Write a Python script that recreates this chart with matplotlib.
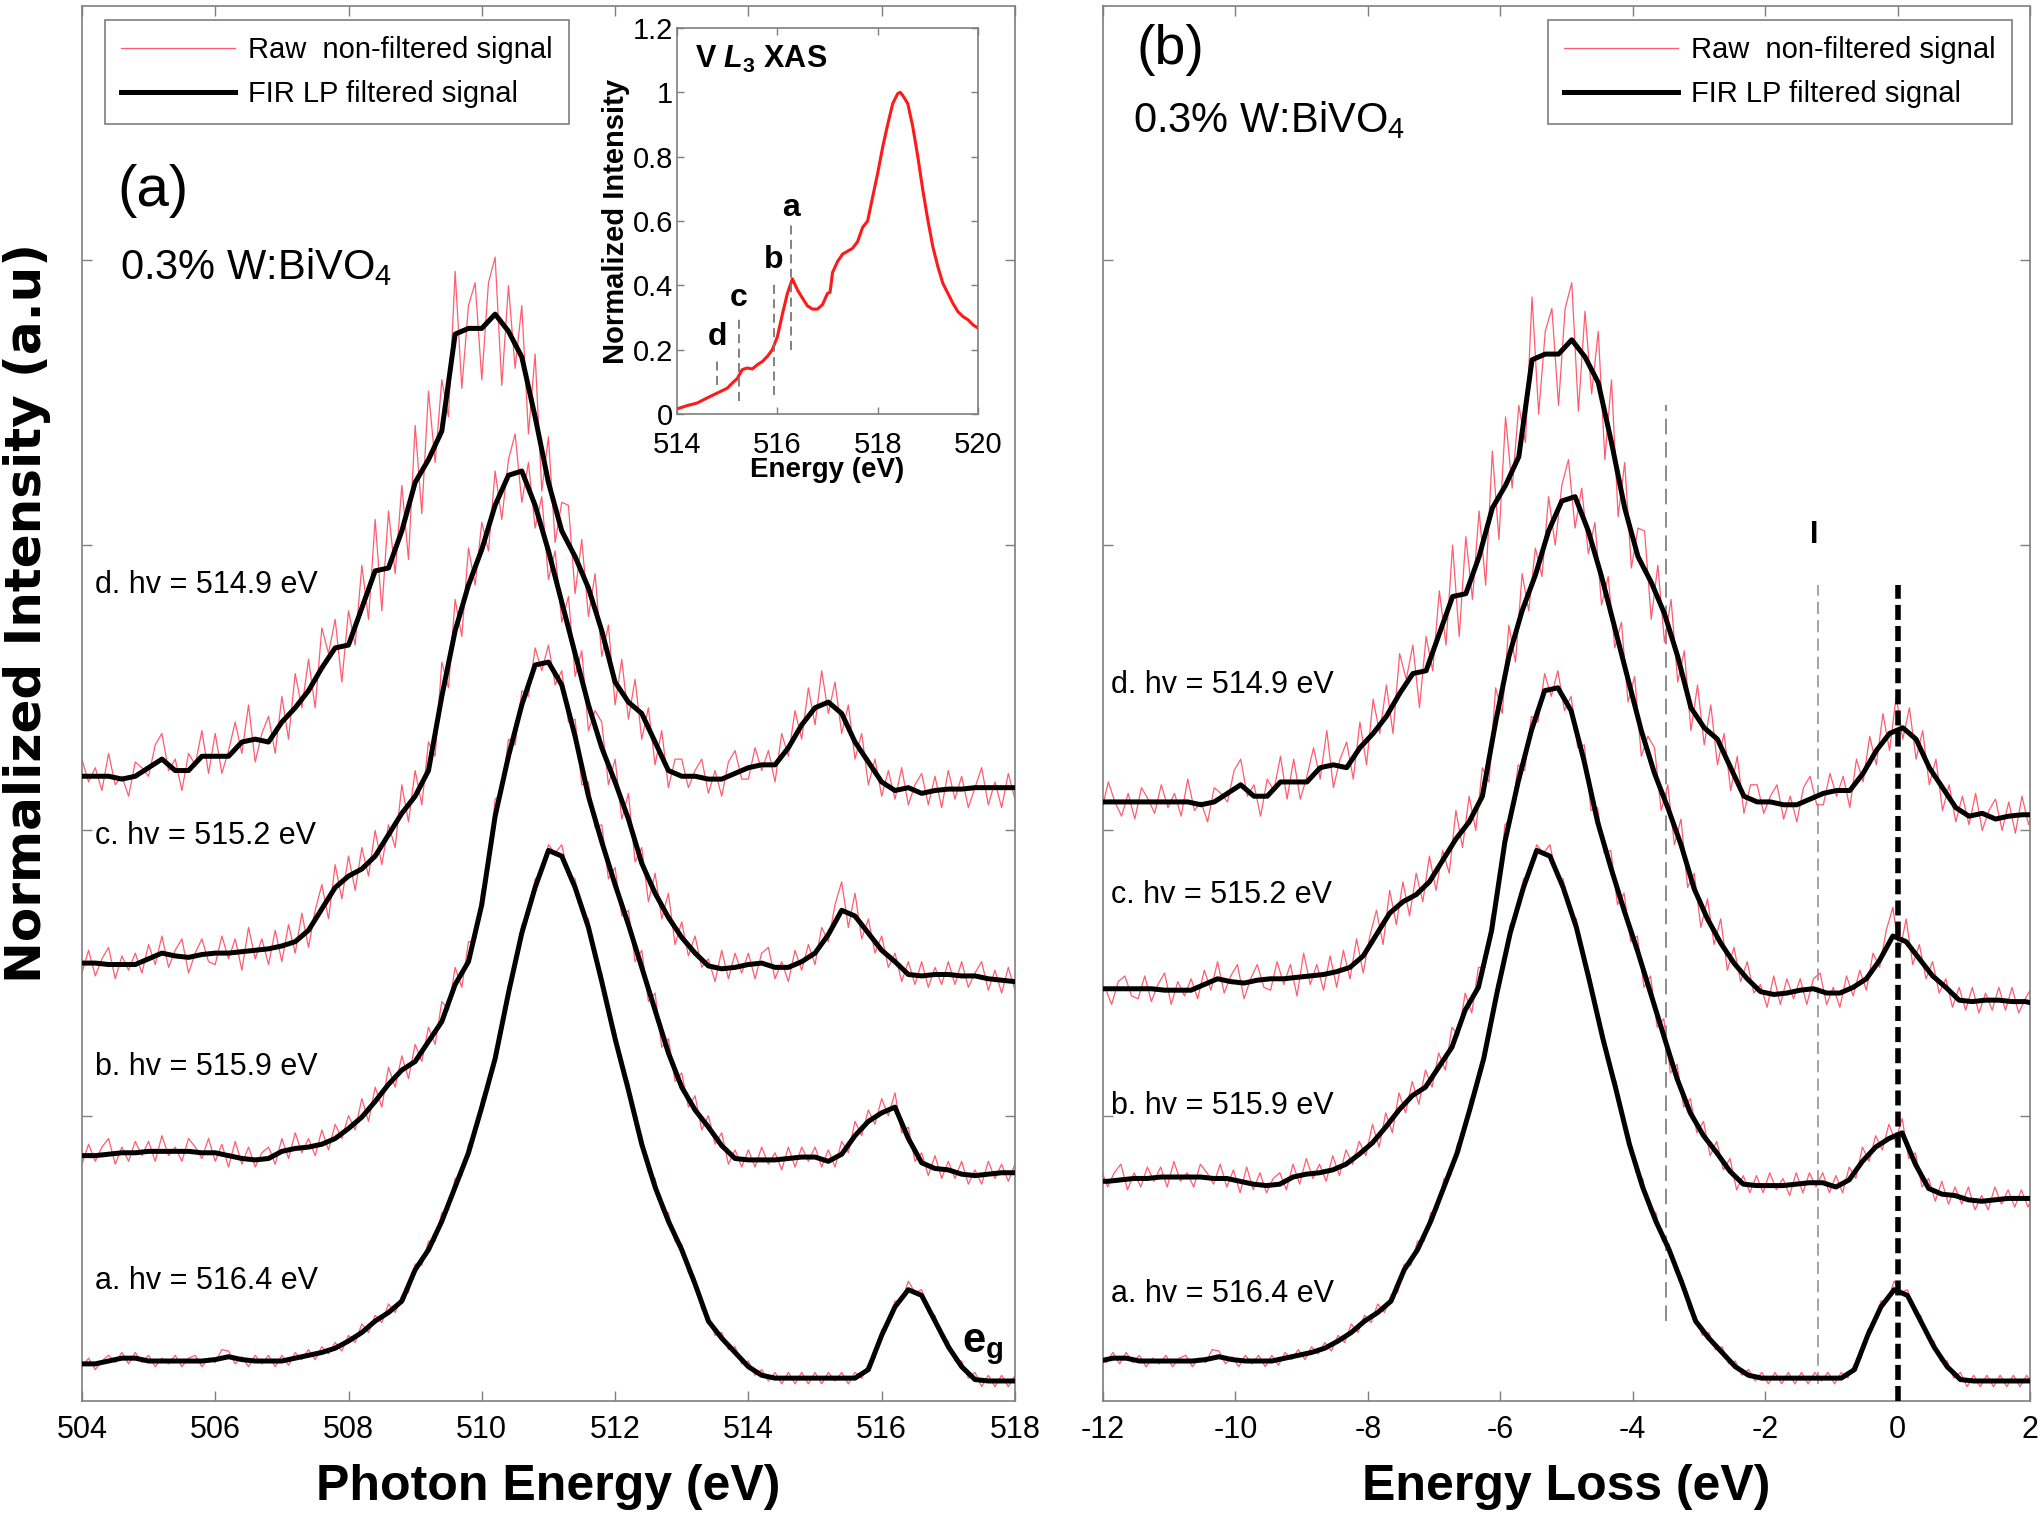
import matplotlib.pyplot as plt
import numpy as np

plt.rcParams['font.family'] = ['Liberation Sans', 'DejaVu Sans']
plt.rcParams['mathtext.fontset'] = 'custom'
plt.rcParams['mathtext.rm'] = 'Liberation Sans'
plt.rcParams['mathtext.it'] = 'Liberation Sans:italic:bold'
plt.rcParams['mathtext.bf'] = 'Liberation Sans:bold'
plt.rcParams['axes.unicode_minus'] = False

# ---- RIXS spectra (values in 1/100 of a y tick), photon energy grid ----
raw_start, raw_step = 503.0, 0.1
filt_start, filt_step = 503.0, 0.2

raw_a = [
    15, 12, 14, 11, 15, 13, 12, 15, 11, 14,
    12, 15, 11, 14, 16, 13.5, 17, 13, 17, 13.5,
    16, 12, 15, 13, 16, 12, 15, 16, 12, 15,
    13.5, 18, 17.5, 13, 15.5, 12, 16, 13, 16, 12,
    16, 12.5, 17, 14.5, 18, 14.5, 19, 16.5, 20.5, 17.5,
    23, 20.5, 27, 24, 30, 27.5, 34, 31, 37, 38,
    48, 47.5, 56, 56, 66, 67, 78, 79, 90, 93,
    106, 109, 123, 129, 146, 151, 167, 170, 183, 185,
    195, 192, 195, 184, 183, 171, 169, 155, 150, 135,
    130, 116, 112, 97, 93, 80, 78, 67, 66, 56,
    55, 45, 43, 32, 30, 23, 24, 18, 19, 13,
    14, 9, 11, 7, 10, 6, 10, 6, 10, 6,
    10, 6, 10, 7, 10, 6, 10, 8, 13, 15,
    25, 27, 35, 35, 42, 38, 39, 31, 30, 22,
    21, 14, 14, 8, 10, 5, 9, 5, 9, 5,
    9, 5, 9, 5, 9, 5, 9,
]
raw_b = [
    89, 84, 90, 83, 87, 90, 83, 88, 82, 89,
    83, 90, 84, 89, 92, 83, 89, 84, 91, 86,
    91, 84, 93, 86, 89, 84, 92, 89, 85, 92,
    84, 90, 82, 91, 83, 89, 82, 87, 89, 83,
    92, 85, 94, 87, 92, 86, 95, 88, 97, 92,
    100, 95, 106, 98, 110, 103, 117, 110, 121, 113,
    125, 119, 131, 125, 140, 137, 152, 145, 161, 161,
    179, 186, 211, 213, 232, 230, 249, 247, 264, 256,
    265, 251, 256, 238, 239, 216, 217, 201, 202, 183,
    187, 170, 172, 154, 158, 140, 143, 124, 127, 112,
    115, 103, 107, 95, 100, 90, 94, 83, 88, 82,
    88, 82, 89, 83, 87, 81, 89, 82, 89, 84,
    89, 82, 88, 82, 91, 87, 98, 93, 102, 97,
    106, 100, 108, 94, 96, 84, 87, 79, 86, 78,
    84, 78, 84, 76, 81, 76, 84, 78, 83, 77,
    83, 77, 82, 78, 83, 77, 82,
]
raw_c = [
    157, 150, 155, 159, 149, 154, 148, 156, 158, 151,
    150, 158, 149, 155, 159, 148, 156, 151, 157, 150,
    160, 153, 163, 152, 158, 162, 150, 157, 162, 154,
    153, 163, 155, 162, 151, 166, 155, 162, 153, 165,
    154, 167, 157, 171, 159, 172, 181, 169, 188, 176,
    191, 179, 194, 184, 200, 188, 202, 194, 216, 203,
    221, 209, 231, 226, 259, 250, 281, 268, 299, 286,
    308, 298, 326, 309, 330, 339, 315, 329, 306, 317,
    288, 298, 273, 282, 254, 263, 235, 242, 238, 216,
    225, 204, 213, 189, 194, 175, 185, 169, 178, 160,
    168, 156, 163, 152, 155, 147, 158, 148, 157, 150,
    157, 148, 157, 159, 148, 154, 147, 158, 151, 160,
    153, 166, 161, 174, 182, 166, 178, 162, 169, 157,
    163, 152, 157, 147, 154, 146, 154, 145, 152, 146,
    154, 146, 154, 145, 150, 154, 144, 151, 143, 152,
    144, 151, 145, 152, 143, 150, 145,
]
raw_d = [
    223, 216, 226, 219, 214, 222, 213, 224, 220, 215,
    225, 217, 222, 214, 227, 216, 219, 212, 224, 222,
    219, 230, 234, 221, 225, 214, 227, 223, 235, 220,
    234, 220, 228, 238, 227, 244, 224, 234, 240, 227,
    247, 232, 255, 243, 260, 243, 271, 262, 274, 252,
    277, 265, 293, 274, 309, 277, 312, 290, 321, 295,
    342, 311, 354, 329, 358, 345, 396, 355, 384, 392,
    358, 392, 401, 356, 391, 362, 384, 339, 367, 319,
    338, 301, 315, 314, 283, 302, 275, 290, 261, 272,
    244, 260, 239, 253, 232, 243, 223, 235, 215, 225,
    225, 215, 221, 225, 213, 221, 212, 224, 228, 218,
    218, 229, 221, 228, 217, 234, 226, 242, 232, 250,
    237, 256, 241, 252, 234, 244, 225, 234, 216, 225,
    212, 221, 211, 222, 209, 216, 220, 209, 219, 208,
    221, 211, 219, 208, 215, 222, 209, 217, 208, 220,
    211, 220, 213, 222, 210, 218, 212,
]

filt_a = [
    13, 13, 13, 13, 13,
    13, 13, 14, 15, 15,
    14, 14, 14, 14, 14,
    14.5, 15.5, 14.5, 14, 14,
    14, 15, 16, 17, 18.5,
    21, 24, 28, 31, 35,
    46, 53, 63, 75, 87,
    103, 120, 143, 164, 180,
    193, 191, 180, 166, 147,
    127, 109, 90, 75, 63,
    53, 41, 28, 22, 17,
    12, 9, 8, 8, 8,
    8, 8, 8, 8, 11,
    23, 33, 39, 37, 28,
    19, 12, 7.5, 7, 7,
    7, 7, 7, 7,
]
filt_b = [
    86, 86, 86, 86, 86,
    86, 86, 86.5, 87, 87,
    87.5, 87.5, 87.5, 87.5, 87,
    87, 86, 85, 84.5, 85,
    87.5, 88.5, 89, 90, 92,
    95.5, 99.5, 105, 111, 116,
    119, 126, 133, 146, 154,
    174, 205, 226, 244, 258,
    259, 251, 233, 212, 196,
    181, 167, 152, 137, 122,
    110, 102, 96, 89.5, 85,
    84.5, 84.5, 84.5, 85, 85.5,
    85.5, 84, 86.5, 93, 98,
    101, 103, 92, 83.5, 81.5,
    81, 79.5, 79, 79.5, 80,
    80, 80, 80, 80,
]
filt_c = [
    153.5, 153.5, 153.5, 153.5, 153.5,
    153.5, 153.5, 153, 153, 153,
    155, 157, 156, 155.5, 156.5,
    157, 157, 157.5, 158, 158.5,
    159.5, 161, 165, 172.5, 180,
    184, 186.5, 191, 198.5, 206,
    212, 221, 247, 270, 286,
    298.5, 314, 324.5, 326, 314,
    298, 280, 262, 244, 229,
    217, 204, 188.5, 178, 169.5,
    162.5, 157, 152.5, 151.5, 152,
    153, 153.5, 152, 152, 154,
    157, 163.5, 172, 170, 164,
    158, 154, 149.5, 149, 149.5,
    149.5, 149, 149, 148, 147.5,
    147, 147, 147, 147,
]
filt_d = [
    219, 219, 219, 219, 219,
    219, 219, 219, 218, 219,
    222, 225, 221, 221, 226,
    226, 226, 231, 232, 231,
    238, 243, 249, 257, 264,
    265, 278, 291, 292, 305,
    322, 330, 340, 374, 376,
    376, 381, 375, 366, 345,
    322, 305, 296, 285, 270,
    252, 245, 241, 231, 221,
    219, 219, 218, 218, 220,
    222, 223, 223, 229, 237,
    243, 245, 241, 231, 224,
    217, 214, 215, 213, 214,
    214.5, 214.5, 215, 215, 215,
    215, 215, 215, 215,
]

raw_series = [raw_a, raw_b, raw_c, raw_d]
filt_series = [filt_a, filt_b, filt_c, filt_d]
hv_labels = ['a. hv = 516.4 eV', 'b. hv = 515.9 eV',
             'c. hv = 515.2 eV', 'd. hv = 514.9 eV']
elastic_peak = [516.45, 516.13, 515.47, 515.12]   # eV, sets the energy-loss zero
loss_offset = [0.0, -0.09, -0.09, -0.09]          # vertical shift used in panel (b)

# ---- V L3 XAS inset ----
xas_energy = [514.0, 514.2, 514.4, 514.6, 514.8, 515.0, 515.1, 515.2, 515.3,
              515.4, 515.5, 515.6, 515.7, 515.8, 515.9, 516.0, 516.1, 516.2,
              516.3, 516.4, 516.5, 516.6, 516.7, 516.8, 516.9, 517.0, 517.05,
              517.1, 517.2, 517.3, 517.5, 517.6, 517.7, 517.8, 517.9, 518.0,
              518.1, 518.2, 518.3, 518.4, 518.45, 518.5, 518.6, 518.7, 518.8,
              518.9, 519.0, 519.1, 519.2, 519.3, 519.4, 519.5, 519.6, 519.7,
              519.8, 519.9, 520.0]
xas_intensity = [0.016, 0.026, 0.034, 0.05, 0.065, 0.08, 0.096, 0.11, 0.138,
                 0.143, 0.14, 0.153, 0.163, 0.179, 0.20, 0.24, 0.31, 0.375,
                 0.42, 0.386, 0.36, 0.336, 0.326, 0.326, 0.34, 0.375, 0.378,
                 0.44, 0.474, 0.497, 0.515, 0.536, 0.58, 0.60, 0.675, 0.748,
                 0.83, 0.90, 0.965, 0.996, 1.0, 0.99, 0.965, 0.893, 0.80,
                 0.696, 0.603, 0.52, 0.458, 0.406, 0.375, 0.344, 0.318, 0.303,
                 0.293, 0.277, 0.267]
xas_mark_energy = [516.27, 515.93, 515.23, 514.80]
xas_mark_top = [0.60, 0.41, 0.30, 0.17]
xas_mark_bottom = [0.20, 0.06, 0.04, 0.09]
xas_mark_text_y = [0.615, 0.455, 0.335, 0.215]
xas_mark_labels = ['a', 'b', 'c', 'd']

# ---- guide lines in panel (b) ----
guide_loss = [-3.5, -1.2]
guide_bottom = [0.28, 0.06]
guide_top = [3.49, 2.86]
elastic_line_top = 2.86

RAW_COLOR = '#ff5c70'
AXIS_GRAY = '#7f7f7f'

fig = plt.figure(figsize=(20.43, 15.17), dpi=100)
ax_a = fig.add_axes([0.0401, 0.0765, 0.4567, 0.9195])
ax_b = fig.add_axes([0.5399, 0.0765, 0.4537, 0.9195])
ax_in = fig.add_axes([0.3314, 0.7271, 0.1473, 0.2545])

handles = []
for i in range(4):
    raw = np.array(raw_series[i]) / 100.0
    filt = np.array(filt_series[i]) / 100.0
    raw_x = raw_start + raw_step * np.arange(len(raw))
    filt_x = filt_start + filt_step * np.arange(len(filt))

    h_raw, = ax_a.plot(raw_x, raw, color=RAW_COLOR, lw=0.9, zorder=2)
    h_filt, = ax_a.plot(filt_x, filt, color='black', lw=3.6, zorder=3,
                        solid_joinstyle='round')
    if i == 0:
        handles = [h_raw, h_filt]

    ax_b.plot(raw_x - elastic_peak[i], raw + loss_offset[i],
              color=RAW_COLOR, lw=0.9, zorder=2)
    ax_b.plot(filt_x - elastic_peak[i], filt + loss_offset[i],
              color='black', lw=3.6, zorder=3, solid_joinstyle='round')

label_y_a = [0.42, 1.17, 1.98, 2.86]
label_y_b = [0.375, 1.035, 1.775, 2.51]
for i in range(4):
    ax_a.text(504.2, label_y_a[i], hv_labels[i], fontsize=22, va='center')
    ax_b.text(-11.88, label_y_b[i], hv_labels[i], fontsize=22, va='center')

for ax in (ax_a, ax_b):
    ax.set_ylim(0, 4.89)
    ax.set_yticks([1, 2, 3, 4])
    ax.set_yticklabels([])
    ax.tick_params(direction='in', length=7, width=1, color=AXIS_GRAY,
                   top=True, right=True, labelsize=22, pad=10)
    for sp in ax.spines.values():
        sp.set_color(AXIS_GRAY)
        sp.set_linewidth(1.2)

ax_a.set_xlim(504, 518)
ax_a.set_xticks(np.arange(504, 519, 2))
ax_b.set_xlim(-12, 2)
ax_b.set_xticks(np.arange(-12, 3, 2))

ax_a.set_xlabel('Photon Energy (eV)', fontsize=36, fontweight='bold', labelpad=14)
ax_b.set_xlabel('Energy Loss (eV)', fontsize=36, fontweight='bold', labelpad=14)
ax_a.set_ylabel('Normalized Intensity (a.u)', fontsize=36, fontweight='bold',
                family='DejaVu Sans')
ax_a.yaxis.set_label_coords(-0.033, 0.565)

ax_a.text(504.53, 4.24, '(a)', fontsize=42, va='center')
ax_a.text(504.57, 3.933, r'0.3% W:BiVO$_4$', fontsize=30, va='baseline')
ax_b.text(-11.49, 4.735, '(b)', fontsize=40, va='center')
ax_b.text(-11.55, 4.448, r'0.3% W:BiVO$_4$', fontsize=30, va='baseline')
ax_a.text(517.2, 0.17, r'$\mathbf{e}_\mathbf{g}$', fontsize=30, va='baseline')

for x0, y0, y1, lw in zip(guide_loss, guide_bottom, guide_top, [1.4, 1.1]):
    ax_b.plot([x0, x0], [y0, y1], color='#8c8c8c', lw=lw,
              linestyle=(0, (8, 4)), zorder=1)
ax_b.plot([0, 0], [0, elastic_line_top], color='black', lw=4,
          linestyle=(0, (2.7, 1.1)), zorder=4)
ax_b.text(-1.26, 3.035, 'I', fontsize=22, fontweight='bold',
          ha='center', va='center')

legend_labels = ['Raw  non-filtered signal', 'FIR LP filtered signal']
for ax, loc, anchor in ((ax_a, 'upper left', (0.0247, 0.99)),
                        (ax_b, 'upper right', (0.9806, 0.99))):
    leg = ax.legend(handles, legend_labels, loc=loc, bbox_to_anchor=anchor,
                    borderaxespad=0, fontsize=21, handlelength=3.9,
                    handletextpad=0.45, borderpad=0.55, labelspacing=0.55,
                    fancybox=False, framealpha=1, edgecolor=AXIS_GRAY)
    leg.get_frame().set_linewidth(1.2)

# inset
ax_in.plot(xas_energy, xas_intensity, color='#ff1a1a', lw=2.2)
for x0, y0, y1, ty, lab in zip(xas_mark_energy, xas_mark_bottom, xas_mark_top,
                               xas_mark_text_y, xas_mark_labels):
    ax_in.plot([x0, x0], [y0, y1], color='#777777', lw=1.3,
               linestyle=(0, (5, 3)))
    ax_in.text(x0, ty, lab, fontsize=23, fontweight='bold',
               ha='center', va='baseline')
ax_in.text(514.36, 1.075, r'V $\mathit{L}_\mathbf{3}$ XAS', fontsize=22,
           fontweight='bold', va='baseline')
ax_in.set_xlim(514, 520)
ax_in.set_ylim(0, 1.2)
ax_in.set_xticks([514, 516, 518, 520])
ax_in.set_yticks([0, 0.2, 0.4, 0.6, 0.8, 1.0, 1.2])
ax_in.set_yticklabels(['0', '0.2', '0.4', '0.6', '0.8', '1', '1.2'])
ax_in.tick_params(direction='in', length=5, width=1, color=AXIS_GRAY,
                  top=True, right=True, labelsize=21, pad=3)
ax_in.tick_params(axis='x', pad=12)
for sp in ax_in.spines.values():
    sp.set_color(AXIS_GRAY)
    sp.set_linewidth(1.2)
ax_in.set_xlabel('Energy (eV)', fontsize=20, fontweight='bold', labelpad=-1)
ax_in.set_ylabel('Normalized Intensity', fontsize=21, fontweight='bold',
                 labelpad=2)

fig.savefig('out.png', dpi=100)
plt.close(fig)
